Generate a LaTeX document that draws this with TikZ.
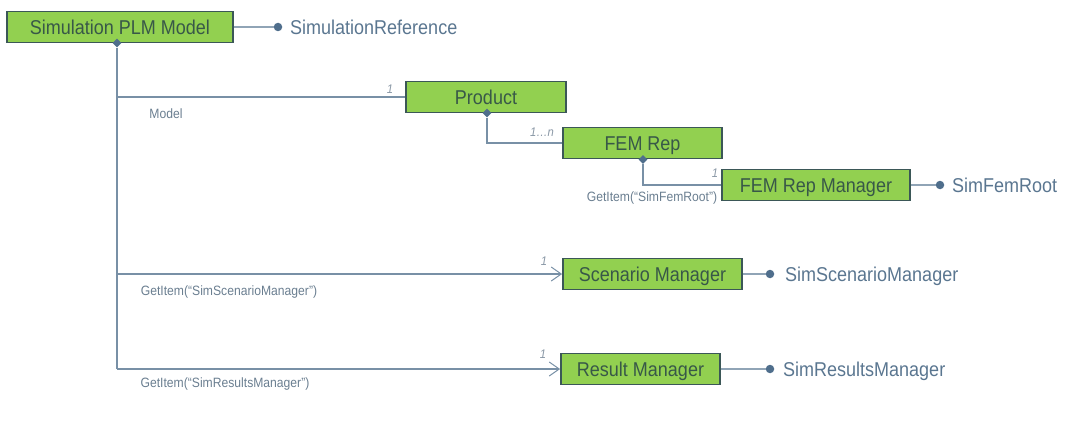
\documentclass[tikz,border=0pt]{standalone}
\usepackage{fontspec}
\setmainfont{Liberation Sans}[FakeStretch=0.9]
\usetikzlibrary{shapes.geometric,arrows.meta}
\definecolor{boxgreen}{HTML}{92D050}
\definecolor{boxborder}{HTML}{3B5757}
\definecolor{boxtext}{HTML}{385848}
\definecolor{exttext}{HTML}{5A7690}
\definecolor{smalltext}{HTML}{6A7E90}
\definecolor{multtext}{HTML}{8A98A6}
\definecolor{linecol}{HTML}{7890A6}
\definecolor{dotline}{HTML}{90A4B6}
\definecolor{diacol}{HTML}{4F6E8C}
\begin{document}
\begin{tikzpicture}[x=1pt,y=-1pt,
  box/.style={draw=boxborder, line width=1.8pt, fill=boxgreen, text=boxtext,
    font=\fontsize{20}{20}\selectfont, minimum height=31pt, inner sep=0pt,
    text height=14.5pt, text depth=0pt},
  main/.style={draw=linecol, line width=1.1pt},
  conn/.style={draw=dotline, line width=1.3pt},
  ext/.style={text=exttext, font=\fontsize{20}{20}\selectfont, anchor=west, inner sep=0pt,
    text height=14.5pt, text depth=0pt},
  small/.style={text=smalltext, font=\fontsize{13.5}{13.5}\selectfont, inner sep=0pt},
  mult/.style={text=multtext, font=\itshape\fontsize{12.5}{12.5}\selectfont, inner sep=0pt},
  dia/.style={diamond, fill=diacol, inner sep=0pt, minimum size=9pt},
  dot/.style={circle, fill=diacol, inner sep=0pt, minimum size=8.5pt},
  arr/.style={-{Straight Barb[length=10pt,width=14pt,line width=1pt]}}
]
\useasboundingbox (0,0) rectangle (1078,420);

% boxes
\node[box, minimum width=226pt] (plm) at (120,27) {Simulation PLM Model};
\node[box, minimum width=160pt] (prod) at (486,97) {Product};
\node[box, minimum width=159pt] (fem) at (642.5,143) {FEM Rep};
\node[box, minimum width=188pt] (femm) at (816,185) {FEM Rep Manager};
\node[box, minimum width=179pt] (scen) at (652.5,274) {Scenario Manager};
\node[box, minimum width=159pt] (res) at (640.5,369) {Result Manager};

% diamonds
\node[dia] (d1) at (117,43) {};
\node[dia] (d2) at (487,113) {};
\node[dia] (d3) at (643,159.5) {};

% junctions
\coordinate (c1) at (117,97);
\coordinate (c2) at (117,274);
\coordinate (c3) at (117,369);

% lollipops
\node[dot] (dr) at (278,27) {};
\node[ext] (tr) at (290,27) {SimulationReference};
\node[dot] (df) at (940,185) {};
\node[ext] (tf) at (952,185) {SimFemRoot};
\node[dot] (ds) at (770,274) {};
\node[ext] (ts) at (785,274) {SimScenarioManager};
\node[dot] (dm) at (770,369) {};
\node[ext] (tm) at (783,369) {SimResultsManager};

\draw[conn] (plm.east) -- (dr);
\draw[conn] (femm.east) -- (df);
\draw[conn] (scen.east) -- (ds);
\draw[conn] (res.east) -- (dm);

% main connectors
\draw[main] (d1.south) -- (c3);
\draw[main] (c1) -- (prod.west);
\draw[main,arr] (c2) -- (scen.west);
\draw[main,arr] (c3) -- (res.west);
\draw[main] (d2.south) |- (fem.west);
\draw[main] (d3.south) |- (femm.west);

% labels
\node[mult] (m1) at (390,89) {1};
\node[small] (lmodel) at (166,114) {Model};
\node[mult] (m2) at (542,132) {1…n};
\node[mult] (m3) at (715,173) {1};
\node[small] (lfem) at (652,198) {GetItem(“SimFemRoot”)};
\node[mult] (m4) at (544,261) {1};
\node[small] (lscen) at (229,292) {GetItem(“SimScenarioManager”)};
\node[mult] (m5) at (543,354) {1};
\node[small] (lres) at (225,384) {GetItem(“SimResultsManager”)};
\end{tikzpicture}
\end{document}
